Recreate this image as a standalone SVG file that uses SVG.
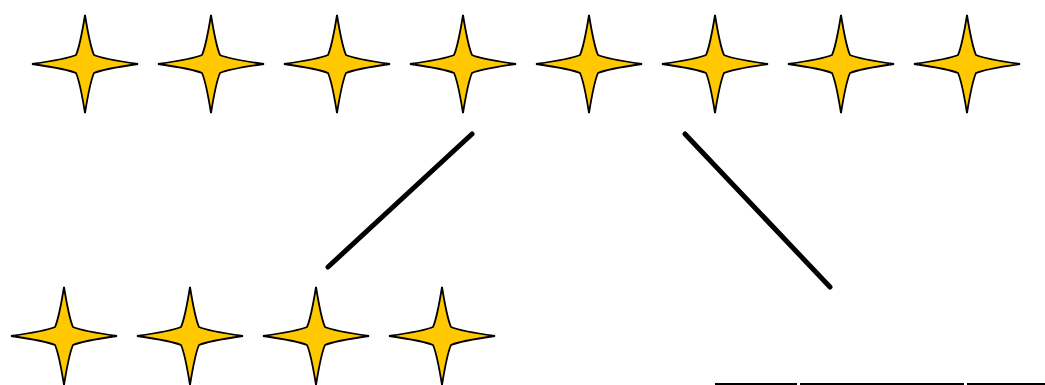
<svg xmlns="http://www.w3.org/2000/svg" xmlns:xlink="http://www.w3.org/1999/xlink" width="1045" height="385" viewBox="0 0 1045 385">
  <style>
    .star { fill: #FFC800; stroke: #000; stroke-width: 1.8; stroke-linejoin: miter; }
    .conn { stroke: #000; stroke-width: 5; stroke-linecap: round; fill: none; }
    .blank { stroke: #000; stroke-width: 3; fill: none; }
  </style>
  <defs>
    <path id="star" class="star" d="M0,-49 Q5,-18 9,-9 Q18,-5 53,0 Q18,5 9,9 Q5,18 0,49 Q-5,18 -9,9 Q-18,5 -53,0 Q-18,-5 -9,-9 Q-5,-18 0,-49 Z"/>
  </defs>
  <rect width="1045" height="385" fill="#fff"/>
  <g id="top-row">
    <g id="t1"><use xlink:href="#star" href="#star" x="85" y="64"/></g>
    <g id="t2"><use xlink:href="#star" href="#star" x="211" y="64"/></g>
    <g id="t3"><use xlink:href="#star" href="#star" x="337" y="64"/></g>
    <g id="t4"><use xlink:href="#star" href="#star" x="463" y="64"/></g>
    <g id="t5"><use xlink:href="#star" href="#star" x="589" y="64"/></g>
    <g id="t6"><use xlink:href="#star" href="#star" x="715" y="64"/></g>
    <g id="t7"><use xlink:href="#star" href="#star" x="841" y="64"/></g>
    <g id="t8"><use xlink:href="#star" href="#star" x="967" y="64"/></g>
  </g>
  <g id="bottom-row">
    <g id="b1"><use xlink:href="#star" href="#star" x="64" y="336"/></g>
    <g id="b2"><use xlink:href="#star" href="#star" x="190" y="336"/></g>
    <g id="b3"><use xlink:href="#star" href="#star" x="316" y="336"/></g>
    <g id="b4"><use xlink:href="#star" href="#star" x="442" y="336"/></g>
  </g>
  <g id="connectors">
    <line class="conn" x1="472" y1="134" x2="328" y2="267"/>
    <line class="conn" x1="685" y1="134" x2="830" y2="287"/>
  </g>
  <g id="blanks">
    <line class="blank" x1="715" y1="384.5" x2="797" y2="384.5"/>
    <line class="blank" x1="800" y1="384.5" x2="964" y2="384.5"/>
    <line class="blank" x1="967" y1="384.5" x2="1045" y2="384.5"/>
  </g>
</svg>
